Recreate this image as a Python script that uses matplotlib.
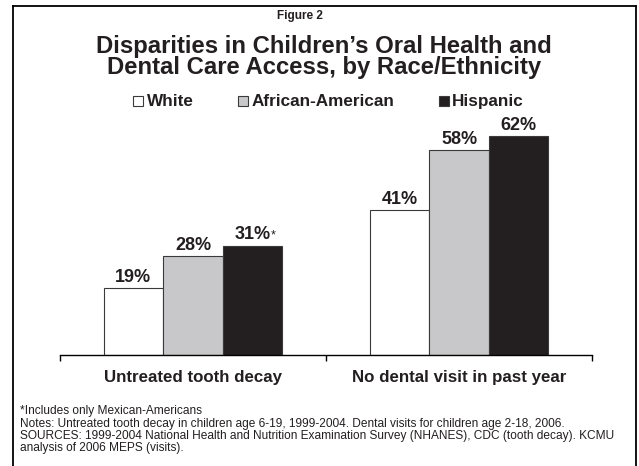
import matplotlib.pyplot as plt
import matplotlib.patches as mpatches
from matplotlib.lines import Line2D
import numpy as np

plt.rcParams['font.family'] = ['Liberation Sans', 'DejaVu Sans']

categories = ["Untreated tooth decay", "No dental visit in past year"]
groups = ["White", "African-American", "Hispanic"]
white = [19, 41]
african_american = [28, 58]
hispanic = [31, 62]
value_labels = [["19%", "41%"], ["28%", "58%"], ["31%", "62%"]]
colors = ["#ffffff", "#c8c8ca", "#231f20"]

W, H = 639, 466
fig = plt.figure(figsize=(W / 100, H / 100), dpi=100)

# outer frame, open at the bottom
frame_kw = dict(color="black", lw=1.3, transform=fig.transFigure)
fig.add_artist(Line2D([13 / W, 13 / W], [0, 1 - 5.5 / H], **frame_kw))
fig.add_artist(Line2D([636 / W, 636 / W], [0, 1 - 5.5 / H], **frame_kw))
fig.add_artist(Line2D([13 / W, 636 / W], [1 - 5.5 / H, 1 - 5.5 / H], **frame_kw))

fig.text(300 / W, 1 - 16 / H, "Figure 2", ha="center", va="center",
         fontsize=8.5, fontweight="bold", color="#231f20")
title_lines = ["Disparities in Children\u2019s Oral Health and",
               "Dental Care Access, by Race/Ethnicity"]
for line, base in zip(title_lines, [52.5, 74]):
    fig.text(324 / W, 1 - base / H, line, ha="center", va="baseline",
             fontsize=17.2, fontweight="bold", color="#231f20")

ax = fig.add_axes([60 / W, 1 - 355 / H, 532 / W, 70 * 3.53 / H])
x = np.arange(len(categories))
bw = 0.224
series = [white, african_american, hispanic]
for i, (vals, col) in enumerate(zip(series, colors)):
    bars = ax.bar(x + (i - 1) * bw, vals, width=bw, color=col,
                  edgecolor="#3a3a3a", linewidth=0.8, label=groups[i])
    for j, b in enumerate(bars):
        t = ax.annotate(value_labels[i][j], (b.get_x() + b.get_width() / 2, b.get_height()),
                        xytext=(0, 1.5), textcoords="offset points",
                        ha="center", va="bottom", fontsize=13, fontweight="bold",
                        color="#231f20")
        if i == 2 and j == 0:
            # footnote marker on the Hispanic value
            ax.annotate("*", xy=(1, 1), xycoords=t, xytext=(0, -2),
                        textcoords="offset points", ha="left", va="top",
                        fontsize=9, color="#231f20")

ax.set_xlim(-0.5, 1.5)
ax.set_ylim(0, 70)
for s in ["top", "left", "right"]:
    ax.spines[s].set_visible(False)
ax.spines["bottom"].set_linewidth(1.0)
ax.set_yticks([])
ax.set_xticks([-0.5, 0.5, 1.5])
ax.set_xticklabels([])
ax.tick_params(axis="x", which="major", direction="out", length=4, width=1.0)
ax.set_xticks(x, minor=True)
ax.set_xticklabels(categories, minor=True, fontsize=12.2, fontweight="bold", color="#231f20")
ax.tick_params(axis="x", which="minor", length=0, pad=11)

# legend row
legend_items = [(133, 147, "White"), (238, 252, "African-American"), (439, 452, "Hispanic")]
for (sq, tx, lab), col in zip(legend_items, colors):
    fig.add_artist(mpatches.Rectangle((sq / W, 1 - 106 / H), 10 / W, 10 / H,
                                      transform=fig.transFigure, facecolor=col,
                                      edgecolor="#3a3a3a", linewidth=0.8))
    fig.text(tx / W, 1 - 106 / H, lab, ha="left", va="baseline", fontsize=12.3,
             fontweight="bold", color="#231f20")

notes = ["*Includes only Mexican-Americans",
         "Notes: Untreated tooth decay in children age 6-19, 1999-2004. Dental visits for children age 2-18, 2006.",
         "SOURCES: 1999-2004 National Health and Nutrition Examination Survey (NHANES), CDC (tooth decay). KCMU",
         "analysis of 2006 MEPS (visits)."]
for k, line in enumerate(notes):
    fig.text(20 / W, 1 - (411 + 12.5 * k) / H, line, ha="left", va="center",
             fontsize=8.6, color="#231f20")

fig.savefig("out.png", dpi=100)
